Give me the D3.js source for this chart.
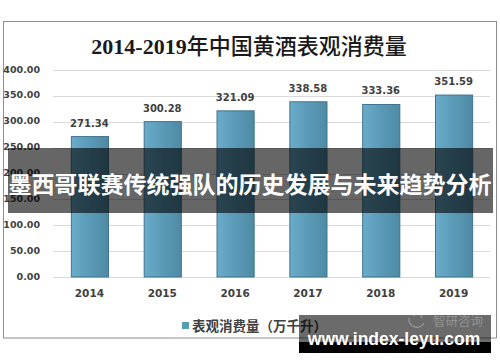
<!DOCTYPE html>
<html><head><meta charset="utf-8">
<script src="https://cdn.jsdelivr.net/npm/d3@7/dist/d3.min.js"></script>
<style>html,body{margin:0;padding:0;background:#fff;}svg{display:block;}</style>
</head><body>
<svg id="c" width="500" height="362"></svg>
<script>
const years = ["2014","2015","2016","2017","2018","2019"];
const values = [271.34, 300.28, 321.09, 338.58, 333.36, 351.59];
const yTicks = [0, 50, 100, 150, 200, 250, 300, 350, 400];
const titleA = "2014-2019";
const titleB = "年中国黄酒表观消费量";
const legendLabel = "表观消费量（万千升）";
const bannerText = "墨西哥联赛传统强队的历史发展与未来趋势分析";
const watermark = "www.index-leyu.com";
const logoText = "智研咨询";

const svg = d3.select("#c");
const defs = svg.append("defs");
const g = defs.append("linearGradient").attr("id","bg").attr("x1","0").attr("y1","0").attr("x2","1").attr("y2","0");
g.append("stop").attr("offset","0").attr("stop-color","#6aaccb");
g.append("stop").attr("offset","0.5").attr("stop-color","#5a9ab7");
g.append("stop").attr("offset","1").attr("stop-color","#4f8aa4");

// frame
svg.append("rect").attr("x",3.5).attr("y",21.5).attr("width",493).attr("height",316.5)
  .attr("fill","#fff").attr("stroke","#8e8e8e").attr("stroke-width",1);

const tt = svg.append("text").attr("x",249).attr("y",54).attr("text-anchor","middle")
  .attr("font-size",22).attr("fill","#1a1a1a");
tt.append("tspan").attr("font-family","'Liberation Serif',serif").attr("font-weight","bold").text(titleA);
tt.append("tspan").attr("font-family","'Noto Sans CJK SC',sans-serif").attr("font-weight","500").text(titleB);

const x = d3.scaleBand().domain(years).range([53,490]).paddingInner(0.49).paddingOuter(0.245);
const y = d3.scaleLinear().domain([0,400]).range([277,70]);

// grid
svg.append("g").selectAll("line").data(yTicks).join("line")
  .attr("x1",53).attr("x2",490).attr("y1",d=>Math.round(y(d))+0.5).attr("y2",d=>Math.round(y(d))+0.5)
  .attr("stroke","#d9d9d9").attr("stroke-width",1);

// y axis labels
const yAxis = d3.axisLeft(y).tickValues(yTicks).tickFormat(d3.format(".2f")).tickSize(0).tickPadding(0);
const ya = svg.append("g").attr("transform","translate(40,-1)").call(yAxis);
ya.select(".domain").remove();
ya.selectAll("text").attr("font-family","'DejaVu Sans',sans-serif").attr("font-weight","bold")
  .attr("font-size",9.5).attr("fill","#404040");

// bars
svg.append("g").selectAll("rect").data(values).join("rect")
  .attr("x",(d,i)=>x(years[i])+0.5).attr("width",x.bandwidth())
  .attr("y",d=>y(d)).attr("height",d=>y(0)-y(d))
  .attr("fill","url(#bg)").attr("stroke","#41748c").attr("stroke-width",1);

// value labels
svg.append("g").selectAll("text").data(values).join("text")
  .attr("x",(d,i)=>x(years[i])+x.bandwidth()/2).attr("y",d=>y(d)-10)
  .attr("text-anchor","middle").attr("font-family","'DejaVu Sans',sans-serif").attr("font-weight","bold")
  .attr("font-size",10).attr("fill","#404040").text(d=>d.toFixed(2));

// x axis labels
const xAxis = d3.axisBottom(x).tickSize(0).tickPadding(0);
const xa = svg.append("g").attr("transform","translate(0,290)").call(xAxis);
xa.select(".domain").remove();
xa.selectAll("text").attr("font-family","'DejaVu Sans',sans-serif").attr("font-weight","bold")
  .attr("font-size",10.5).attr("fill","#404040").attr("dy","0.71em");

// legend
svg.append("rect").attr("x",182).attr("y",322).attr("width",7).attr("height",7).attr("fill","#5a9ab7");
svg.append("text").attr("x",192).attr("y",331).attr("font-family","'Noto Sans CJK SC',sans-serif")
  .attr("font-weight","bold").attr("font-size",13.5).attr("fill","#404040").text(legendLabel);

// banner overlay
svg.append("rect").attr("x",8).attr("y",148).attr("width",485).attr("height",65).attr("fill","rgba(0,0,0,0.6)");
svg.append("text").attr("x",250).attr("y",193).attr("text-anchor","middle")
  .attr("font-family","'Noto Sans CJK SC',sans-serif").attr("font-weight","bold")
  .attr("font-size",23).attr("fill","#fff").text(bannerText);

// watermark box
svg.append("rect").attr("x",299).attr("y",315).attr("width",192).attr("height",27).attr("fill","rgba(0,0,0,0.58)");
svg.append("rect").attr("x",299).attr("y",342).attr("width",192).attr("height",11).attr("fill","#000");
// faint logo
const lg = svg.append("g").attr("fill","none").attr("stroke","rgba(255,255,255,0.3)").attr("stroke-width",1.2);
lg.append("path").attr("d","M409,318 A8,8 0 0 0 424,323");
lg.append("path").attr("d","M413,316 A5,5 0 0 1 422,318");
svg.append("text").attr("x",433).attr("y",326).attr("font-family","'Noto Sans CJK SC',sans-serif")
  .attr("font-size",12.5).attr("fill","rgba(255,255,255,0.28)").text(logoText);
svg.append("text").attr("x",394).attr("y",345).attr("text-anchor","middle")
  .attr("font-family","'Liberation Sans',sans-serif").attr("font-weight","bold")
  .attr("font-size",17.5).attr("fill","#fff").text(watermark);
</script>
</body></html>
